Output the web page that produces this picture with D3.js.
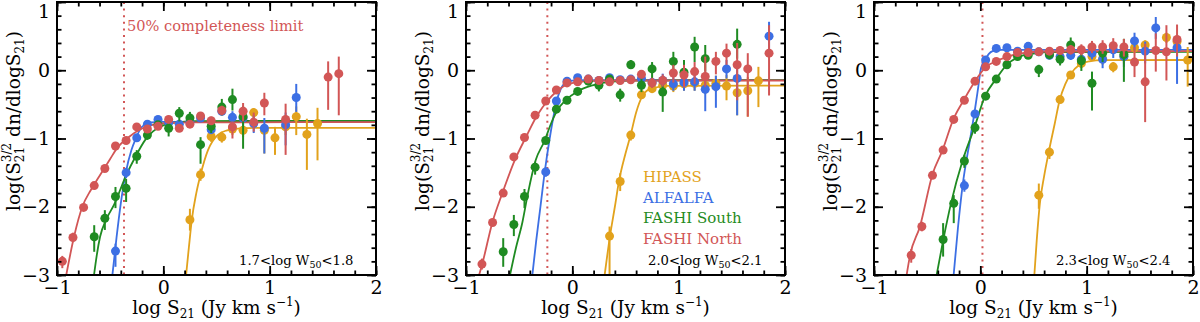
<!DOCTYPE html>
<html>
<head>
<meta charset="utf-8">
<script src="https://cdn.jsdelivr.net/npm/d3@7"></script>
<style>
  body { margin: 0; background: #fff; }
  svg { display: block; }
  text { font-family: "DejaVu Serif", serif; }
</style>
</head>
<body>
<div id="chart"></div>
<script>
// ---- data ----
const xTicks = [-1, 0, 1, 2];
const yTicks = [-3, -2, -1, 0, 1];
const surveys = ["HIPASS", "ALFALFA", "FASHI South", "FASHI North"];
const surveyColors = ["#e2a21c", "#3c6fe4", "#1f8b22", "#d25656"];
const widthBins = [["1.7", "1.8"], ["2.0", "2.1"], ["2.3", "2.4"]];
const completenessLimit = [-0.37, -0.235, 0.02];
const limitLabel = "50% completeness limit";

// points: [logS21, value, lower, upper]
const p1Hipass = [[0.25,-2.19,-2.35,-2.03],[0.35,-1.53,-1.62,-1.44],[0.45,-0.97,-1.05,-0.90],[0.55,-0.98,-1.06,-0.90],[0.65,-0.86,-0.95,-0.78],[0.75,-0.88,-0.98,-0.80],[0.85,-0.62,-0.71,-0.56],[0.95,-0.88,-1.22,-0.80],[1.05,-0.99,-1.24,-0.83],[1.15,-0.83,-0.95,-0.68],[1.25,-0.68,-0.95,-0.53],[1.35,-0.94,-1.46,-0.71],[1.45,-0.78,-1.32,-0.55]];
const p1Alfalfa = [[-0.45,-2.65,-2.88,-2.54],[-0.35,-1.50,-1.58,-1.43],[-0.25,-0.99,-1.04,-0.94],[-0.15,-0.79,-0.83,-0.75],[-0.05,-0.72,-0.75,-0.69],[0.05,-0.77,-0.80,-0.74],[0.15,-0.79,-0.84,-0.74],[0.25,-0.76,-0.80,-0.72],[0.35,-0.70,-0.75,-0.65],[0.45,-0.87,-0.92,-0.80],[0.55,-0.60,-0.66,-0.54],[0.65,-0.69,-0.78,-0.60],[0.75,-0.70,-0.80,-0.60],[0.85,-0.78,-0.92,-0.66],[0.95,-0.85,-1.22,-0.70],[1.15,-0.80,-1.10,-0.62],[1.25,-0.40,-0.61,-0.20]];
const p1FashiS = [[-0.65,-2.44,-2.66,-2.27],[-0.55,-2.17,-2.34,-2.05],[-0.45,-1.85,-2.02,-1.71],[-0.35,-1.73,-1.93,-1.59],[-0.25,-1.26,-1.37,-1.17],[-0.15,-0.95,-1.02,-0.88],[-0.05,-0.80,-0.85,-0.75],[0.05,-0.85,-0.97,-0.76],[0.15,-0.63,-0.75,-0.54],[0.25,-0.70,-0.80,-0.61],[0.35,-1.09,-1.37,-0.98],[0.45,-0.82,-0.92,-0.72],[0.55,-0.54,-0.66,-0.42],[0.65,-0.43,-0.59,-0.27],[0.75,-0.68,-1.15,-0.52]];
const p1FashiN = [[-0.95,-2.80,-2.90,-2.72],[-0.85,-2.45,-2.52,-2.38],[-0.75,-2.01,-2.06,-1.96],[-0.65,-1.69,-1.74,-1.64],[-0.55,-1.44,-1.48,-1.40],[-0.45,-1.11,-1.15,-1.07],[-0.35,-1.03,-1.06,-1.00],[-0.25,-0.83,-0.86,-0.80],[-0.15,-0.86,-0.90,-0.82],[-0.05,-0.82,-0.86,-0.78],[0.05,-0.72,-0.76,-0.68],[0.15,-0.85,-0.90,-0.80],[0.25,-0.79,-0.84,-0.74],[0.35,-0.67,-0.72,-0.62],[0.45,-0.74,-0.80,-0.68],[0.55,-0.59,-0.66,-0.52],[0.65,-0.83,-1.00,-0.75],[0.75,-0.60,-0.75,-0.48],[0.85,-0.76,-0.90,-0.62],[0.95,-0.48,-0.66,-0.33],[1.15,-0.72,-1.24,-0.49],[1.55,-0.10,-0.58,0.13],[1.65,-0.05,-0.66,0.20]];

const p2Hipass = [[0.35,-2.43,-3.0,-2.29],[0.45,-1.63,-1.77,-1.51],[0.55,-0.95,-1.03,-0.90],[0.65,-0.36,-0.41,-0.31],[0.75,-0.27,-0.32,-0.22],[0.85,-0.22,-0.30,-0.15],[0.95,-0.23,-0.32,-0.15],[1.05,-0.20,-0.30,-0.12],[1.15,-0.19,-0.30,-0.10],[1.25,-0.22,-0.35,-0.12],[1.35,-0.19,-0.32,-0.08],[1.45,-0.23,-0.44,-0.07],[1.55,-0.33,-0.66,-0.12],[1.65,-0.30,-0.68,-0.10],[1.75,-0.155,-0.54,0.05]];
const p2Alfalfa = [[-0.25,-1.49,-1.56,-1.42],[-0.15,-0.45,-0.50,-0.40],[-0.05,-0.16,-0.19,-0.13],[0.05,-0.11,-0.14,-0.08],[0.15,-0.13,-0.16,-0.10],[0.25,-0.15,-0.18,-0.12],[0.35,-0.11,-0.15,-0.07],[0.45,-0.14,-0.18,-0.10],[0.55,-0.13,-0.18,-0.08],[0.65,-0.12,-0.18,-0.06],[0.75,-0.18,-0.25,-0.11],[0.85,-0.15,-0.25,-0.05],[0.95,-0.20,-0.30,-0.10],[1.05,-0.18,-0.30,-0.06],[1.15,-0.17,-0.30,-0.05],[1.25,-0.28,-0.60,-0.10],[1.35,-0.24,-0.55,-0.08],[1.45,0.02,-0.12,0.15],[1.55,-0.12,-0.66,0.05],[1.85,0.50,0.24,0.71]];
const p2FashiS = [[-0.65,-2.66,-2.88,-2.46],[-0.55,-2.26,-2.43,-2.12],[-0.45,-1.85,-2.02,-1.74],[-0.35,-1.42,-1.53,-1.34],[-0.25,-1.03,-1.08,-0.98],[-0.15,-0.57,-0.62,-0.52],[-0.05,-0.44,-0.48,-0.40],[0.05,-0.31,-0.35,-0.27],[0.15,-0.16,-0.20,-0.12],[0.25,-0.22,-0.31,-0.15],[0.35,-0.13,-0.18,-0.08],[0.45,-0.36,-0.46,-0.27],[0.55,0.08,0.02,0.15],[0.65,-0.22,-0.32,-0.12],[0.75,0.02,-0.12,0.12],[0.85,-0.32,-0.61,-0.17],[0.95,0.13,-0.02,0.27],[1.05,-0.03,-0.17,0.15],[1.15,0.34,0.12,0.49],[1.25,0.17,-0.02,0.37],[1.55,0.38,0.17,0.61]];
const p2FashiN = [[-0.85,-2.84,-2.92,-2.76],[-0.75,-2.23,-2.27,-2.19],[-0.65,-1.80,-1.84,-1.76],[-0.55,-1.27,-1.31,-1.23],[-0.45,-0.985,-1.02,-0.95],[-0.35,-0.66,-0.69,-0.63],[-0.25,-0.45,-0.48,-0.42],[-0.15,-0.29,-0.32,-0.26],[-0.05,-0.185,-0.21,-0.16],[0.05,-0.17,-0.20,-0.14],[0.15,-0.13,-0.16,-0.10],[0.25,-0.15,-0.18,-0.12],[0.35,-0.17,-0.21,-0.13],[0.45,-0.15,-0.19,-0.11],[0.55,-0.14,-0.19,-0.09],[0.65,-0.06,-0.12,0.00],[0.75,-0.185,-0.26,-0.11],[0.85,-0.15,-0.24,-0.06],[0.95,-0.04,-0.18,0.08],[1.05,-0.07,-0.25,0.08],[1.15,-0.02,-0.20,0.12],[1.25,-0.09,-0.24,0.20],[1.35,0.13,-0.06,0.27],[1.45,0.25,0.08,0.39],[1.55,0.08,-0.44,0.40],[1.65,0.02,-0.68,0.25],[1.85,0.25,-0.37,0.66]];

const p3Hipass = [[0.55,-1.83,-2.03,-1.66],[0.65,-1.20,-1.30,-1.13],[0.75,-0.43,-0.48,-0.38],[0.85,-0.07,-0.11,-0.03],[0.95,0.10,0.04,0.16],[1.05,0.20,0.14,0.26],[1.15,0.17,0.08,0.25],[1.25,0.05,-0.03,0.12],[1.35,0.20,0.10,0.28],[1.45,0.33,0.25,0.40],[1.55,0.37,0.29,0.44],[1.75,0.48,0.40,0.55],[1.85,0.42,0.30,0.52],[1.95,0.15,-0.24,0.34]];
const p3Alfalfa = [[-0.15,-1.69,-1.78,-1.60],[-0.05,-0.64,-0.68,-0.60],[0.05,0.15,0.12,0.18],[0.15,0.32,0.29,0.35],[0.25,0.33,0.30,0.36],[0.35,0.28,0.25,0.31],[0.45,0.35,0.32,0.38],[0.55,0.27,0.23,0.31],[0.65,0.22,0.17,0.27],[0.75,0.20,0.14,0.26],[0.85,0.22,0.15,0.29],[0.95,0.16,0.08,0.24],[1.05,0.25,0.16,0.33],[1.15,0.16,0.03,0.30],[1.25,0.30,0.18,0.40],[1.35,0.20,0.05,0.33],[1.45,0.43,0.29,0.55],[1.55,0.28,0.10,0.42],[1.65,0.62,0.46,0.78],[1.85,0.33,-0.20,0.52]];
const p3FashiS = [[-0.35,-2.48,-2.73,-2.24],[-0.25,-1.95,-2.24,-1.83],[-0.15,-1.33,-1.43,-1.24],[-0.05,-0.84,-0.93,-0.76],[0.05,-0.38,-0.43,-0.33],[0.15,-0.13,-0.17,-0.09],[0.25,0.08,0.04,0.12],[0.35,0.20,0.16,0.24],[0.45,0.22,0.17,0.27],[0.55,0.01,-0.10,0.08],[0.65,0.23,0.16,0.30],[0.75,0.16,0.07,0.25],[0.85,0.37,0.27,0.48],[0.95,0.14,-0.01,0.28],[1.05,-0.19,-0.59,-0.02],[1.15,0.25,0.12,0.38],[1.35,0.23,-0.17,0.46]];
const p3FashiN = [[-0.65,-2.71,-2.82,-2.62],[-0.55,-2.29,-2.36,-2.22],[-0.45,-1.54,-1.58,-1.50],[-0.35,-1.17,-1.21,-1.13],[-0.25,-0.72,-0.75,-0.69],[-0.15,-0.44,-0.47,-0.41],[-0.05,-0.16,-0.19,-0.13],[0.05,0.05,0.02,0.08],[0.15,0.13,0.10,0.16],[0.25,0.20,0.17,0.23],[0.35,0.26,0.23,0.29],[0.45,0.26,0.23,0.29],[0.55,0.27,0.23,0.31],[0.65,0.28,0.23,0.33],[0.75,0.29,0.23,0.35],[0.85,0.30,0.23,0.37],[0.95,0.30,0.22,0.38],[1.05,0.34,0.25,0.43],[1.15,0.34,0.24,0.44],[1.25,0.36,0.25,0.47],[1.35,0.34,0.20,0.46],[1.45,0.12,-0.10,0.34],[1.55,-0.17,-0.76,0.39],[1.65,0.29,-0.02,0.54],[1.75,0.27,-0.15,0.66],[1.85,0.45,0.20,0.67]];

// fitted curves, sampled off the figure: [logS21, value]
const p1HipassFit = [[0.214,-3],[0.24,-2.6],[0.268,-2.19],[0.31,-1.8],[0.35,-1.53],[0.42,-1.17],[0.51,-0.95],[0.6,-0.88],[0.7,-0.855],[0.9,-0.845],[2,-0.845]];
const p1AlfalfaFit = [[-0.479,-3],[-0.44,-2.45],[-0.40,-1.95],[-0.353,-1.5],[-0.30,-1.17],[-0.258,-1.0],[-0.22,-0.87],[-0.18,-0.80],[-0.12,-0.765],[0,-0.755],[2,-0.755]];
const p1FashiSFit = [[-0.652,-3],[-0.625,-2.7],[-0.595,-2.44],[-0.532,-2.17],[-0.463,-1.97],[-0.353,-1.55],[-0.26,-1.26],[-0.17,-1.02],[-0.10,-0.9],[0.01,-0.8],[0.15,-0.76],[0.3,-0.745],[2,-0.742]];
const p1FashiNFit = [[-0.913,-3],[-0.84,-2.44],[-0.762,-2.0],[-0.68,-1.75],[-0.605,-1.56],[-0.50,-1.3],[-0.43,-1.13],[-0.343,-1.0],[-0.195,-0.85],[-0.02,-0.78],[0.3,-0.765],[2,-0.76]];

const p2HipassFit = [[0.304,-3],[0.354,-2.43],[0.40,-2.0],[0.438,-1.63],[0.50,-1.22],[0.548,-0.95],[0.60,-0.62],[0.658,-0.38],[0.70,-0.3],[0.767,-0.26],[0.9,-0.23],[2,-0.225]];
const p2AlfalfaFit = [[-0.376,-3],[-0.34,-2.5],[-0.30,-2.0],[-0.257,-1.46],[-0.213,-1.0],[-0.18,-0.7],[-0.147,-0.45],[-0.11,-0.28],[-0.078,-0.2],[-0.03,-0.155],[0.1,-0.145],[2,-0.145]];
const p2FashiSFit = [[-0.586,-3],[-0.53,-2.6],[-0.47,-2.23],[-0.417,-1.8],[-0.345,-1.32],[-0.26,-1.03],[-0.20,-0.78],[-0.147,-0.6],[-0.063,-0.44],[0.047,-0.31],[0.19,-0.22],[0.35,-0.17],[0.6,-0.15],[2,-0.145]];
const p2FashiNFit = [[-0.877,-3],[-0.846,-2.83],[-0.752,-2.23],[-0.658,-1.8],[-0.542,-1.32],[-0.438,-0.985],[-0.33,-0.66],[-0.235,-0.45],[-0.14,-0.3],[-0.03,-0.2],[0.15,-0.16],[0.4,-0.15],[2,-0.15]];

const p3HipassFit = [[0.508,-3],[0.53,-2.5],[0.56,-1.95],[0.60,-1.55],[0.643,-1.2],[0.70,-0.78],[0.744,-0.45],[0.80,-0.2],[0.844,-0.07],[0.932,0.08],[1.026,0.13],[1.15,0.148],[2,0.15]];
const p3AlfalfaFit = [[-0.251,-3],[-0.21,-2.3],[-0.166,-1.68],[-0.095,-1.0],[-0.056,-0.63],[-0.02,-0.25],[0.006,0.03],[0.047,0.16],[0.08,0.24],[0.116,0.28],[0.2,0.3],[2,0.3]];
const p3FashiSFit = [[-0.411,-3],[-0.348,-2.48],[-0.276,-1.95],[-0.166,-1.32],[-0.056,-0.84],[0.044,-0.38],[0.147,-0.13],[0.248,0.08],[0.352,0.19],[0.5,0.245],[0.7,0.265],[2,0.27]];
const p3FashiNFit = [[-0.693,-3],[-0.662,-2.72],[-0.568,-2.29],[-0.449,-1.52],[-0.355,-1.17],[-0.254,-0.72],[-0.157,-0.44],[-0.05,-0.16],[0.053,0.05],[0.147,0.13],[0.257,0.2],[0.4,0.25],[0.6,0.275],[2,0.28]];

const panelPoints = [
  [p1Hipass, p1Alfalfa, p1FashiS, p1FashiN],
  [p2Hipass, p2Alfalfa, p2FashiS, p2FashiN],
  [p3Hipass, p3Alfalfa, p3FashiS, p3FashiN]
];
const panelFits = [
  [p1HipassFit, p1AlfalfaFit, p1FashiSFit, p1FashiNFit],
  [p2HipassFit, p2AlfalfaFit, p2FashiSFit, p2FashiNFit],
  [p3HipassFit, p3AlfalfaFit, p3FashiSFit, p3FashiNFit]
];

// ---- layout ----
const width = 1200, height = 322;
const panelLeft = [57, 466, 874];
const panelTop = 2;
const pw = 319, ph = 273;

const svg = d3.select("#chart").append("svg")
  .attr("width", width)
  .attr("height", height);

panelLeft.forEach((left, pi) => {
  const x = d3.scaleLinear().domain([-1, 2]).range([0, pw]);
  const y = d3.scaleLinear().domain([-3, 1]).range([ph, 0]);

  const g = svg.append("g").attr("transform", `translate(${left},${panelTop})`);

  g.append("clipPath").attr("id", "clip" + pi)
    .append("rect").attr("width", pw).attr("height", ph);

  const plot = g.append("g").attr("clip-path", `url(#clip${pi})`);

  // completeness limit
  plot.append("line")
    .attr("x1", x(completenessLimit[pi])).attr("x2", x(completenessLimit[pi]))
    .attr("y1", 0).attr("y2", ph)
    .attr("stroke", surveyColors[3])
    .attr("stroke-width", 2)
    .attr("stroke-dasharray", "2,4.6");

  // fitted curves
  const line = d3.line().x(d => x(d[0])).y(d => y(d[1])).curve(d3.curveMonotoneX);
  panelFits[pi].forEach((fit, si) => {
    plot.append("path")
      .datum(fit)
      .attr("d", line)
      .attr("fill", "none")
      .attr("stroke", surveyColors[si])
      .attr("stroke-width", 1.8);
  });

  // points with error bars
  panelPoints[pi].forEach((pts, si) => {
    const s = plot.append("g");
    s.selectAll("line")
      .data(pts)
      .join("line")
      .attr("x1", d => x(d[0])).attr("x2", d => x(d[0]))
      .attr("y1", d => y(d[2])).attr("y2", d => y(d[3]))
      .attr("stroke", surveyColors[si])
      .attr("stroke-width", 2);
    s.selectAll("circle")
      .data(pts)
      .join("circle")
      .attr("cx", d => x(d[0]))
      .attr("cy", d => y(d[1]))
      .attr("r", 4.5)
      .attr("fill", surveyColors[si]);
  });

  // axes: ticks inward on all four sides
  const styleAxis = sel => {
    sel.select(".domain").remove();
    sel.selectAll(".tick line").attr("stroke", "#000").attr("stroke-width", 1.8);
    sel.selectAll("text").style("font-family", "DejaVu Serif, serif").style("font-size", "19px").attr("fill", "#000");
  };
  const minorX = x.ticks(15), minorY = y.ticks(20);

  g.append("g").attr("transform", `translate(0,${ph})`)
    .call(d3.axisBottom(x).tickValues(minorX).tickSize(-4.5).tickFormat("")).call(styleAxis);
  g.append("g").attr("transform", `translate(0,${ph})`)
    .call(d3.axisBottom(x).tickValues(xTicks).tickSize(-9).tickPadding(6).tickFormat(d3.format("d"))).call(styleAxis);
  g.append("g")
    .call(d3.axisTop(x).tickValues(minorX).tickSize(-4.5).tickFormat("")).call(styleAxis);
  g.append("g")
    .call(d3.axisTop(x).tickValues(xTicks).tickSize(-9).tickFormat("")).call(styleAxis);

  g.append("g")
    .call(d3.axisLeft(y).tickValues(minorY).tickSize(-4.5).tickFormat("")).call(styleAxis);
  const yAxisG = g.append("g")
    .call(d3.axisLeft(y).tickValues(yTicks).tickSize(-9).tickPadding(7).tickFormat(d3.format("d"))).call(styleAxis);
  // keep the top label inside the picture
  yAxisG.selectAll(".tick").filter(d => d === 1).select("text").attr("dy", "0.84em");
  g.append("g").attr("transform", `translate(${pw},0)`)
    .call(d3.axisRight(y).tickValues(minorY).tickSize(-4.5).tickFormat("")).call(styleAxis);
  g.append("g").attr("transform", `translate(${pw},0)`)
    .call(d3.axisRight(y).tickValues(yTicks).tickSize(-9).tickFormat("")).call(styleAxis);

  // frame
  g.append("rect")
    .attr("width", pw).attr("height", ph)
    .attr("fill", "none").attr("stroke", "#000").attr("stroke-width", 2);

  // x label
  const xl = g.append("text")
    .attr("x", pw / 2).attr("y", 312)
    .attr("text-anchor", "middle")
    .style("font-size", "18.5px");
  xl.append("tspan").text("log S");
  xl.append("tspan").attr("dy", 4).style("font-size", "12px").text("21");
  xl.append("tspan").attr("dy", -4).text(" (Jy km s");
  xl.append("tspan").attr("dy", -8).style("font-size", "12px").text("\u22121");
  xl.append("tspan").attr("dy", 8).text(")");

  // y label
  const yl = g.append("text")
    .attr("transform", `translate(-37,${119}) rotate(-90)`)
    .attr("text-anchor", "middle")
    .style("font-size", "18.5px");
  yl.append("tspan").text("log(S");
  yl.append("tspan").attr("dy", 4).style("font-size", "12px").text("21");
  yl.append("tspan").attr("dx", -15.3).attr("dy", -13).style("font-size", "12px").text("3/2");
  yl.append("tspan").attr("dy", 9).text(" dn/dlogS");
  yl.append("tspan").attr("dy", 4).style("font-size", "12px").text("21");
  yl.append("tspan").attr("dy", -4).text(")");

  // width bin label
  const bl = g.append("text")
    .attr("x", 182).attr("y", 263)
    .style("font-size", "13.2px");
  bl.append("tspan").text(widthBins[pi][0] + "<log W");
  bl.append("tspan").attr("dy", 3).style("font-size", "9.5px").text("50");
  bl.append("tspan").attr("dy", -3).text("<" + widthBins[pi][1]);

  if (pi === 0) {
    g.append("text")
      .attr("x", 70).attr("y", 29)
      .attr("fill", surveyColors[3])
      .style("font-size", "14.6px")
      .text(limitLabel);
  }
  if (pi === 1) {
    g.selectAll(".legend")
      .data(surveys)
      .join("text")
      .attr("class", "legend")
      .attr("x", 177)
      .attr("y", (d, i) => 180 + i * 20.7)
      .attr("fill", (d, i) => surveyColors[i])
      .style("font-size", "15px")
      .text(d => d);
  }
});
</script>
</body>
</html>
